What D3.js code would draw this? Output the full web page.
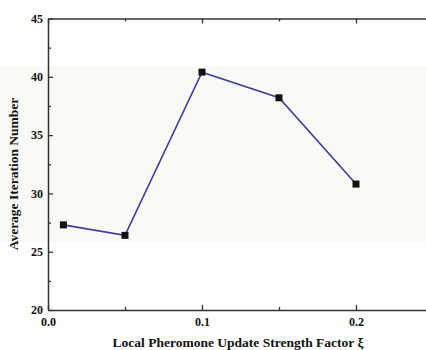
<!DOCTYPE html>
<html>
<head>
<meta charset="utf-8">
<script src="https://cdn.jsdelivr.net/npm/d3@7"></script>
<style>
  body { margin: 0; background: #fff; }
  text { font-family: "Liberation Serif", "Times New Roman", serif; font-weight: bold; fill: #111; }
</style>
</head>
<body>
<div id="chart"></div>
<script>
// data
let xiValues = [0.01, 0.05, 0.1, 0.15, 0.2];
let avgIterations = [27.3, 26.4, 40.4, 38.2, 30.8];
let xMajorTicks = [0.0, 0.1, 0.2];
let xMinorTicks = [0.05, 0.15];
let yMajorTicks = [20, 25, 30, 35, 40, 45];
let yMinorTicks = [22.5, 27.5, 32.5, 37.5, 42.5];

let W = 426, H = 350;
let margin = {top: 18.5, left: 48, bottom: 40};

let svg = d3.select("#chart").append("svg")
    .attr("width", W)
    .attr("height", H);

// faint scanned background band
svg.append("rect")
    .attr("x", 0).attr("y", 66)
    .attr("width", W).attr("height", 176)
    .attr("fill", "#f9f9f6");

let xScale = d3.scaleLinear().domain([0, 0.25]).range([margin.left, margin.left + 385]);
let yScale = d3.scaleLinear().domain([20, 45]).range([H - margin.bottom, margin.top]);

let axisStyle = g => {
    g.select(".domain").attr("stroke", "#333").attr("stroke-width", 1.5);
    g.selectAll(".tick line").attr("stroke", "#333").attr("stroke-width", 1.3);
};

// bottom axis, ticks inward
let bottomAxis = svg.append("g")
    .attr("transform", "translate(0," + yScale(20) + ")")
    .call(d3.axisBottom(xScale).tickValues(xMajorTicks).tickSizeInner(-5).tickSizeOuter(0)
        .tickFormat(d3.format(".1f")));
bottomAxis.selectAll(".tick text").attr("y", 7).attr("dy", "0.71em").style("font-size", "12px");
bottomAxis.call(axisStyle);
svg.append("g")
    .attr("transform", "translate(0," + yScale(20) + ")")
    .call(d3.axisBottom(xScale).tickValues(xMinorTicks).tickSizeInner(-3).tickSizeOuter(0).tickFormat(""))
    .call(g => g.select(".domain").remove())
    .call(axisStyle);

// top axis
svg.append("g")
    .attr("transform", "translate(0," + yScale(45) + ")")
    .call(d3.axisTop(xScale).tickValues(xMajorTicks).tickSizeInner(-5).tickSizeOuter(0).tickFormat(""))
    .call(axisStyle);
svg.append("g")
    .attr("transform", "translate(0," + yScale(45) + ")")
    .call(d3.axisTop(xScale).tickValues(xMinorTicks).tickSizeInner(-3).tickSizeOuter(0).tickFormat(""))
    .call(g => g.select(".domain").remove())
    .call(axisStyle);

// left axis
let leftAxis = svg.append("g")
    .attr("transform", "translate(" + xScale(0) + ",0)")
    .call(d3.axisLeft(yScale).tickValues(yMajorTicks).tickSizeInner(-5).tickSizeOuter(0));
leftAxis.selectAll(".tick text").attr("x", -5).style("font-size", "12px");
leftAxis.call(axisStyle);
svg.append("g")
    .attr("transform", "translate(" + xScale(0) + ",0)")
    .call(d3.axisLeft(yScale).tickValues(yMinorTicks).tickSizeInner(-3).tickSizeOuter(0).tickFormat(""))
    .call(g => g.select(".domain").remove())
    .call(axisStyle);

let points = xiValues.map((x, i) => ({x: x, y: avgIterations[i]}));

svg.append("path")
    .datum(points)
    .attr("fill", "none")
    .attr("stroke", "#3d3d9c")
    .attr("stroke-width", 1.6)
    .attr("d", d3.line().x(d => xScale(d.x)).y(d => yScale(d.y)));

svg.selectAll(".marker")
    .data(points)
    .enter().append("rect")
    .attr("class", "marker")
    .attr("x", d => xScale(d.x) - 3.5)
    .attr("y", d => yScale(d.y) - 3.5)
    .attr("width", 7)
    .attr("height", 7)
    .attr("fill", "#111");

svg.append("text")
    .attr("x", 238)
    .attr("y", 347)
    .style("text-anchor", "middle")
    .style("font-size", "13.5px")
    .text("Local Pheromone Update Strength Factor ξ");

svg.append("text")
    .attr("transform", "translate(18,174) rotate(-90)")
    .style("text-anchor", "middle")
    .style("font-size", "13.5px")
    .text("Average Iteration Number");
</script>
</body>
</html>
